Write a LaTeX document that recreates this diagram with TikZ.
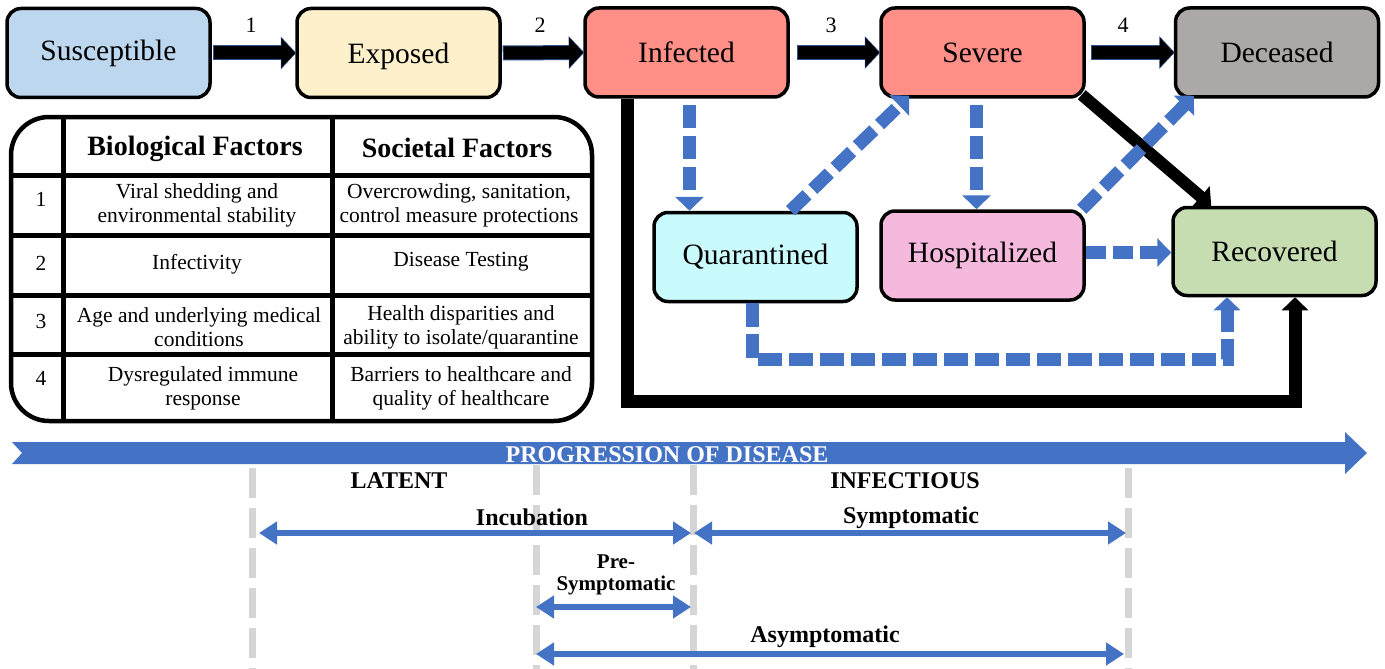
\documentclass[tikz,border=0pt]{standalone}
\usepackage{fontspec}
\setmainfont{Liberation Serif}
\usetikzlibrary{arrows.meta,calc}
\definecolor{cblue}{HTML}{4472C4}
\definecolor{cnavy}{HTML}{2F4F8F}
\definecolor{csus}{HTML}{BDD7EE}
\definecolor{cexp}{HTML}{FDF0CB}
\definecolor{cinf}{HTML}{FF8F87}
\definecolor{cdec}{HTML}{ACA8A8}
\definecolor{cqua}{HTML}{C9FAFC}
\definecolor{chos}{HTML}{F6B9DE}
\definecolor{crec}{HTML}{C6DDB1}
\definecolor{cgrey}{HTML}{D5D5D5}
\begin{document}
\begin{tikzpicture}[x=1pt,y=-1pt,
  box/.style={draw=black, line width=3.5pt, rounded corners=14pt, minimum width=203pt, minimum height=89pt, inner sep=0pt, font=\fontsize{29.5}{32}\selectfont},
  fat/.style={draw=black, line width=13pt, -{Triangle[width=29pt,length=14pt]}},
  fatrim/.style={draw=cnavy, line width=15pt, -{Triangle[width=32pt,length=15.5pt]}},
  blk/.style={draw=black, line width=12pt, -{Triangle[width=27pt,length=14pt]}},
  bdash/.style={draw=cblue, line width=13pt, dash pattern=on 23pt off 8pt, -{Triangle[width=28pt,length=14pt]}},
  num/.style={font=\fontsize{22}{24}\selectfont, inner sep=0pt},
  cell/.style={font=\fontsize{21.5}{24}\selectfont, align=center, inner sep=0pt},
  head/.style={font=\bfseries\fontsize{28}{32}\selectfont, inner sep=0pt},
  tline/.style={draw=black, line width=5pt},
  gdash/.style={draw=cgrey, line width=7pt, dash pattern=on 30pt off 10pt},
  darr/.style={draw=cblue, line width=6pt, {Triangle[width=22pt,length=18pt]}-{Triangle[width=22pt,length=18pt]}},
  tlab/.style={font=\bfseries\fontsize{24}{26}\selectfont, inner sep=0pt, align=center}
]
\useasboundingbox (0,0) rectangle (1385,669);
\fill[white] (0,0) rectangle (1385,669);

% ---- compartments ----
\node[box, fill=csus] (sus) at (108.5,53) {Susceptible};
\node[box, fill=cexp, text height=22pt, text depth=0pt] (exp) at (398.5,53) {Exposed};
\node[box, fill=cinf] (inf) at (686.5,52.5) {Infected};
\node[box, fill=cinf] (sev) at (982.5,52.5) {Severe};
\node[box, fill=cdec] (dec) at (1277,52.5) {Deceased};
\node[box, fill=cqua] (qua) at (755.5,257) {Quarantined};
\node[box, fill=chos] (hos) at (982.5,255.5) {Hospitalized};
\node[box, fill=crec, minimum height=88pt] (rec) at (1274.5,251.5) {Recovered};

% ---- top arrows ----
\draw[fatrim] ([xshift=1pt]sus.east) -- ([xshift=1pt]exp.west);
\draw[fat] ([xshift=2pt]sus.east) -- (exp.west);
\draw[fatrim] ([xshift=1pt]exp.east) -- ([xshift=1pt]inf.west);
\draw[fat] ([xshift=2pt]exp.east) -- (inf.west);
\draw[fatrim] ([xshift=7pt]inf.east) -- ([xshift=1pt]sev.west);
\draw[fat] ([xshift=8pt]inf.east) -- (sev.west);
\draw[fatrim] ([xshift=5pt]sev.east) -- ([xshift=1pt]dec.west);
\draw[fat] ([xshift=6pt]sev.east) -- (dec.west);
\node[num] (n1) at (251,25) {1};
\node[num] (n2) at (540,25) {2};
\node[num] (n3) at (831,25) {3};
\node[num] (n4) at (1123,25) {4};

% ---- black paths to recovered ----
\coordinate (b1) at (627.5,401);
\coordinate (b2) at (1295,401);
\draw[black, line width=13pt, -{Triangle[width=26pt,length=13pt]}] (inf.south -| b1) -- (b1) -- (b2) -- (rec.south -| b2);
\draw[blk] ([xshift=-4pt,yshift=4pt]sev.south east) -- ([xshift=40pt]rec.north west);

% ---- blue dashed ----
\draw[bdash, shorten <=6pt] ([xshift=3pt]inf.south) -- ([xshift=3pt]inf.south |- qua.north);
\draw[bdash, shorten <=6pt] ([xshift=-6pt]sev.south) -- ([xshift=-6pt]hos.north);
\draw[bdash] ([xshift=35pt]qua.north) -- ([xshift=30pt,yshift=3pt]sev.south west);
\draw[bdash] ([xshift=-4pt]hos.north east) -- ([xshift=20pt,yshift=3pt]dec.south west);
\draw[bdash, dash pattern=on 20pt off 7pt] ([yshift=3pt]hos.east) -- ([yshift=3pt]hos.east -| rec.west);
\coordinate (q1) at (752,359);
\coordinate (q2) at (1227,359);
\draw[bdash, dash pattern=on 24pt off 7pt, -{Triangle[width=26pt,length=13pt]}] (qua.south -| q1) -- (q1) -- (q2) -- (rec.south -| q2);

% ---- table ----
\draw[tline] (63,117) -- (63,421);
\draw[tline] (332,117) -- (332,421);
\draw[tline] (11,175) -- (592,175);
\draw[tline] (11,235) -- (592,235);
\draw[tline] (11,295) -- (592,295);
\draw[tline] (11,354) -- (592,354);
\node[draw=black, line width=4.5pt, rounded corners=38pt, minimum width=581pt, minimum height=304pt, inner sep=0pt] (tbl) at (301.5,269) {};
\node[head] (h1) at (195,149) {Biological Factors};
\node[head] (h2) at (457,148) {Societal Factors};
\node[cell] (r1) at (41,199) {1};
\node[cell] (r2) at (41,263) {2};
\node[cell] (r3) at (41,321) {3};
\node[cell] (r4) at (41,378) {4};
\node[cell] (b11) at (197,205) {Viral shedding and\\environmental stability};
\node[cell] (s11) at (459,205) {Overcrowding, sanitation,\\control measure protections};
\node[cell] (b22) at (197,264) {Infectivity};
\node[cell] (s22) at (461,262) {Disease Testing};
\node[cell] (b33) at (199,327) {Age and underlying medical\\conditions};
\node[cell] (s33) at (461,327) {Health disparities and\\ability to isolate/quarantine};
\node[cell] (b44) at (203,388) {Dysregulated immune\\response};
\node[cell] (s44) at (461,388) {Barriers to healthcare and\\quality of healthcare};

% ---- timeline ----
\fill[cblue] (12,442) -- (1345,442) -- (1345,432) -- (1367,453) -- (1345,474) -- (1345,464) -- (12,464) -- (22,453) -- cycle;
\node[font=\bfseries\fontsize{24}{26}\selectfont, text=white, inner sep=0pt] (prog) at (667,455) {PROGRESSION OF DISEASE};
\draw[gdash] (252,468) -- (252,669);
\draw[gdash] (536,465) -- (536,669);
\draw[gdash] (693,465) -- (693,669);
\draw[gdash] (1128,468) -- (1128,669);
\node[tlab] (lat) at (399,481) {LATENT};
\node[tlab] (infc) at (905,481) {INFECTIOUS};
\node[tlab] (inc) at (532,517) {Incubation};
\node[tlab] (sym) at (911,518) {Symptomatic};
\node[tlab, font=\bfseries\fontsize{21}{22}\selectfont] (pre) at (616,575) {Pre-\\Symptomatic};
\node[tlab] (asy) at (825,637) {Asymptomatic};
\coordinate (i1) at (259,533);
\coordinate (i2) at (691,533);
\coordinate (s1) at (694,533);
\coordinate (s2) at (1126,533);
\coordinate (p1) at (536,607);
\coordinate (p2) at (691,607);
\coordinate (a1) at (536,654);
\coordinate (a2) at (1124,654);
\draw[darr] (i1) -- (i2);
\draw[darr] (s1) -- (s2);
\draw[darr] (p1) -- (p2);
\draw[darr] (a1) -- (a2);
\end{tikzpicture}
\end{document}
